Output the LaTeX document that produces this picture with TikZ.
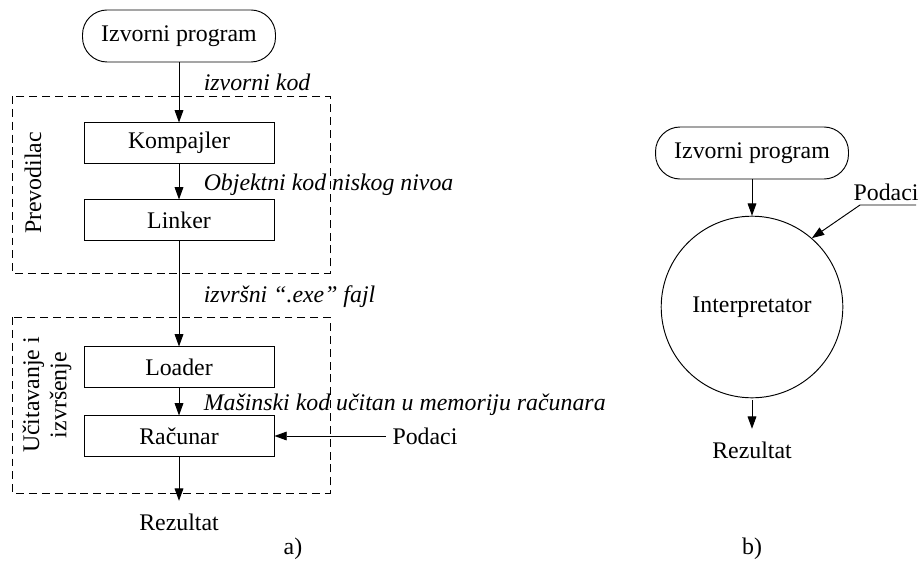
\documentclass[tikz,border=0pt]{standalone}
\usepackage{fontspec}
\setmainfont{Liberation Serif}
\usetikzlibrary{shapes, arrows.meta, positioning}

\begin{document}
\begin{tikzpicture}[
  x=0.5286pt, y=-0.5286pt,
  font=\fontsize{12.6}{14.5}\selectfont,
  line width=0.5pt,
  >={Triangle[length=6.5pt, width=4.6pt]},
  pbox/.style={draw, minimum width=100.4pt, minimum height=21.2pt, inner sep=0pt},
  sbox/.style={draw, rounded corners=13pt, minimum width=102pt, minimum height=27.5pt, inner sep=0pt},
  lbl/.style={anchor=west, font=\fontsize{12.6}{14.5}\selectfont\itshape},
  grp/.style={draw, dash pattern=on 4.2pt off 2.6pt}
]
  \useasboundingbox (0,0) rectangle (919,562);

  % a) prevodilac
  \draw[grp] (12,96) rectangle (330,273);
  \draw[grp] (12,317) rectangle (330,493);
  \node[rotate=90] (prevlbl) at (33,183) {Prevodilac};
  \node[rotate=90, align=center] (uclbl) at (47,395) {Učitavanje i\\izvršenje};

  \node[sbox] (izvorA) at (179,36) {Izvorni program};
  \node[pbox] (kompajler) at (179,143) {Kompajler};
  \node[pbox] (linker) at (179,220) {Linker};
  \node[pbox] (loader) at (179,367) {Loader};
  \node[pbox] (racunar) at (179,436) {Računar};
  \node (podaciA) at (425,436) {Podaci};
  \node (rezA) at (179,522) {Rezultat};

  \node[lbl] (kodlbl) at (197,82) {izvorni kod};
  \node[lbl] (objlbl) at (197,185) {Objektni kod niskog nivoa};
  \node[lbl] (exelbl) at (197,297) {izvršni “.exe” fajl};
  \node[lbl] (maslbl) at (197,405) {Mašinski kod učitan u memoriju računara};

  \draw[->] (izvorA) -- (kompajler);
  \draw[->] (kompajler) -- (linker);
  \draw[->] (linker) -- (loader);
  \draw[->] (loader) -- (racunar);
  \draw[->] (podaciA.west) -- (racunar.east);
  \draw[->, shorten >=3.2pt] (racunar.south) -- (rezA.north);

  \node (capA) at (293,549) {a)};

  % b) interpretator
  \node[sbox] (izvorB) at (752,153) {Izvorni program};
  \node[draw, circle, minimum size=96pt, inner sep=0pt] (interp) at (752,307) {Interpretator};
  \node (podaciB) at (886,192) {Podaci};
  \coordinate (pdB1) at (916,205);
  \coordinate (pdB2) at (860,205);
  \node (rezB) at (752,450) {Rezultat};

  \draw[->] (izvorB) -- (interp);
  \draw[->] (pdB1) -- (pdB2) -- (interp.49);
  \draw[->, shorten >=3.2pt, shorten <=1pt] (interp.south) -- (rezB.north);

  \node (capB) at (752,549) {b)};
\end{tikzpicture}
\end{document}
